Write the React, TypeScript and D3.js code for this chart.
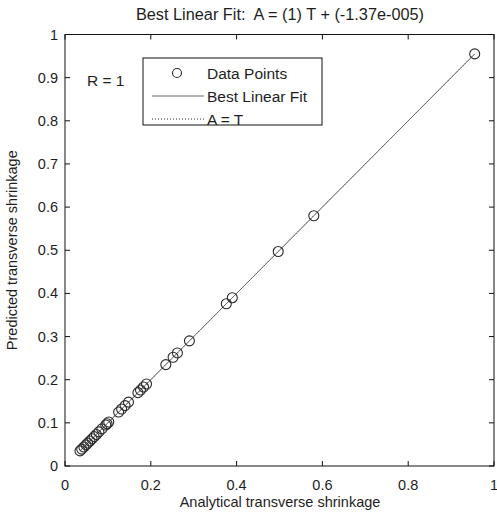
import React from "react";
import * as d3 from "d3";

// Analytical (target) vs predicted transverse shrinkage for each sample
const targets = [
  0.955, 0.58, 0.497, 0.39, 0.376, 0.29, 0.262, 0.252, 0.235, 0.19, 0.183,
  0.176, 0.17, 0.148, 0.14, 0.132, 0.125, 0.102, 0.098, 0.095, 0.086, 0.079,
  0.073, 0.068, 0.063, 0.058, 0.053, 0.049, 0.044, 0.039, 0.035,
];
const outputs = [
  0.955, 0.58, 0.497, 0.39, 0.376, 0.29, 0.262, 0.252, 0.235, 0.19, 0.183,
  0.176, 0.17, 0.148, 0.14, 0.132, 0.125, 0.102, 0.098, 0.095, 0.086, 0.079,
  0.073, 0.068, 0.063, 0.058, 0.053, 0.049, 0.044, 0.039, 0.035,
];
const fitSlope = 1;
const fitIntercept = -1.37e-5;
const xTicks = [0, 0.2, 0.4, 0.6, 0.8, 1];
const yTicks = [0, 0.1, 0.2, 0.3, 0.4, 0.5, 0.6, 0.7, 0.8, 0.9, 1];
const legendLabels = ["Data Points", "Best Linear Fit", "A = T"];

const W = 497;
const H = 515;
const left = 65;
const right = 494;
const top = 34.5;
const bottom = 466;
const font = "Arial, 'Liberation Sans', sans-serif";
const tickLen = 5;
const fs = 14.5;
const legendFs = 15.5;
const ink = "#1e1e1e";

export default function App() {
  const x = d3.scaleLinear().domain([0, 1]).range([left, right]);
  const y = d3.scaleLinear().domain([0, 1]).range([bottom, top]);
  const lo = d3.min([...targets, ...outputs]) as number;
  const hi = d3.max([...targets, ...outputs]) as number;
  const line = d3
    .line<number>()
    .x((d) => x(d))
    .y((d) => y(d * fitSlope + fitIntercept));
  const identity = d3
    .line<number>()
    .x((d) => x(d))
    .y((d) => y(d));

  const lx = 143;
  const ly = 58;
  const lw = 179;
  const lh = 67;

  return (
    <svg
      width={W}
      height={H}
      style={{ position: "absolute", left: 0, top: 0, background: "#fff" }}
      fontFamily={font}
    >
      <rect x={0} y={0} width={W} height={H} fill="#fff" />
      <text
        x={280}
        y={20}
        fontSize={16.3}
        textAnchor="middle"
        fill={ink}
        style={{ whiteSpace: "pre" }}
      >
        {`Best Linear Fit:  A = (${fitSlope}) T + (-1.37e-005)`}
      </text>

      {/* dotted identity line and best fit */}
      <path
        d={identity([lo, hi]) as string}
        stroke="#333"
        strokeWidth={1}
        strokeDasharray="1,2"
        fill="none"
      />
      <path d={line([lo, hi]) as string} stroke="#6a6a6a" strokeWidth={1} fill="none" />

      {targets.map((t, i) => (
        <circle
          key={i}
          cx={x(t)}
          cy={y(outputs[i])}
          r={5}
          fill="none"
          stroke="#2a2a2a"
          strokeWidth={1.1}
        />
      ))}

      {/* axes box */}
      <rect
        x={left}
        y={top}
        width={right - left}
        height={bottom - top}
        fill="none"
        stroke="#111"
        strokeWidth={1}
      />
      {xTicks.map((t) => (
        <g key={"x" + t}>
          <line x1={x(t)} x2={x(t)} y1={bottom} y2={bottom - tickLen} stroke="#111" />
          <line x1={x(t)} x2={x(t)} y1={top} y2={top + tickLen} stroke="#111" />
          <text x={x(t)} y={490} fontSize={fs} textAnchor="middle" fill={ink}>
            {String(t)}
          </text>
        </g>
      ))}
      {yTicks.map((t) => (
        <g key={"y" + t}>
          <line x1={left} x2={left + tickLen} y1={y(t)} y2={y(t)} stroke="#111" />
          <line x1={right} x2={right - tickLen} y1={y(t)} y2={y(t)} stroke="#111" />
          <text x={58} y={y(t) + 5} fontSize={fs} textAnchor="end" fill={ink}>
            {String(t)}
          </text>
        </g>
      ))}

      <text x={280} y={507} fontSize={fs} textAnchor="middle" fill={ink}>
        Analytical transverse shrinkage
      </text>
      <text
        transform={`translate(17,${(top + bottom) / 2}) rotate(-90)`}
        fontSize={fs}
        textAnchor="middle"
        fill={ink}
      >
        Predicted transverse shrinkage
      </text>

      <text x={87} y={86} fontSize={legendFs} fill={ink}>
        R = 1
      </text>

      {/* legend */}
      <rect x={lx} y={ly} width={lw} height={lh} fill="#fff" stroke="#111" strokeWidth={1} />
      <circle cx={177} cy={73} r={4.5} fill="none" stroke="#2a2a2a" strokeWidth={1.1} />
      <text x={207} y={79} fontSize={legendFs} fill={ink}>
        {legendLabels[0]}
      </text>
      <line x1={152} x2={204} y1={96} y2={96} stroke="#6a6a6a" strokeWidth={1} />
      <text x={207} y={101.5} fontSize={legendFs} fill={ink}>
        {legendLabels[1]}
      </text>
      <line
        x1={152}
        x2={205}
        y1={119}
        y2={119}
        stroke="#333"
        strokeWidth={1}
        strokeDasharray="1,2"
      />
      <text x={207} y={124.5} fontSize={legendFs} fill={ink}>
        {legendLabels[2]}
      </text>
    </svg>
  );
}
